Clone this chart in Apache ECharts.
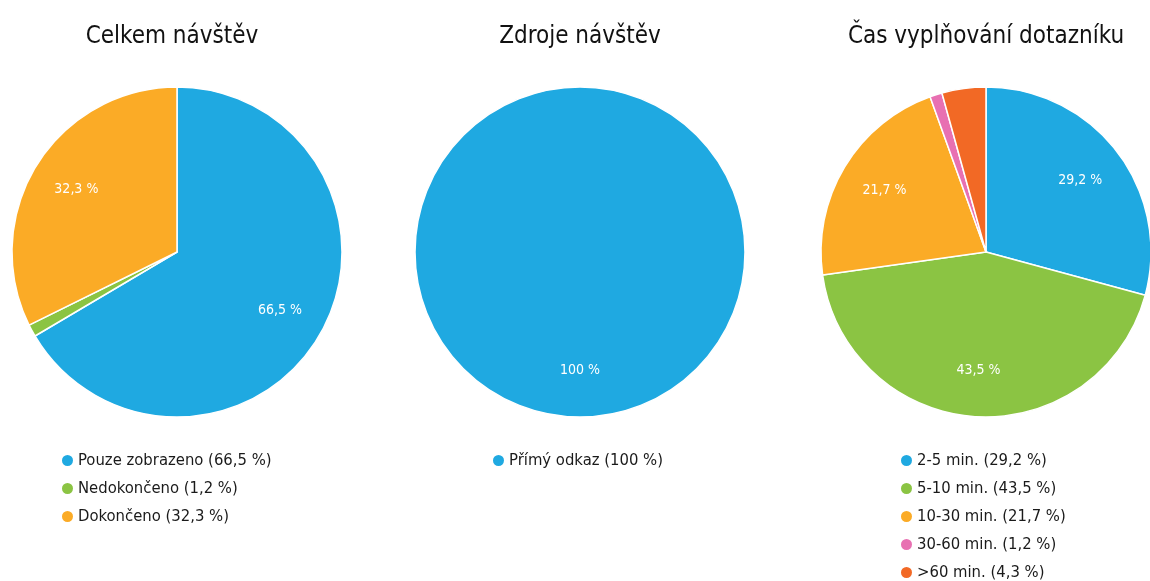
<!DOCTYPE html>
<html>
<head>
<meta charset="utf-8">
<script src="https://cdn.jsdelivr.net/npm/echarts@6/dist/echarts.min.js"></script>
<style>
  html, body { margin: 0; padding: 0; background: #fff; }
  #chart { width: 1150px; height: 581px; }
</style>
</head>
<body>
<div id="chart"></div>
<script>
// data
var titles = ['Celkem návštěv', 'Zdroje návštěv', 'Čas vyplňování dotazníku'];

var visitNames = ['Pouze zobrazeno', 'Nedokončeno', 'Dokončeno'];
var visitValues = [66.5, 1.2, 32.3];

var sourceNames = ['Přímý odkaz'];
var sourceValues = [100];

var timeNames = ['2-5 min.', '5-10 min.', '10-30 min.', '30-60 min.', '>60 min.'];
var timeValues = [29.2, 43.5, 21.7, 1.2, 4.3];

var palette = ['#1fa9e1', '#8bc443', '#fbab26', '#e870b2', '#f26925'];
var font = '"DejaVu Sans Condensed", sans-serif';

var centersX = [177, 580, 986];
var legendLeft = [62, 493, 901];
var titleX = [172, 580, 986];
var centerY = 252;
var R = 165;

function fmt(v) {
  return String(v).replace('.', ',') + ' %';
}

var groups = [
  { names: visitNames, values: visitValues },
  { names: sourceNames, values: sourceValues },
  { names: timeNames, values: timeValues }
];

var lookup = {};
groups.forEach(function (g) {
  g.names.forEach(function (n, i) { lookup[n] = g.values[i]; });
});

var series = [];
var legends = [];
var titleOpts = [];

groups.forEach(function (g, gi) {
  var data = g.names.map(function (n, i) {
    return { name: n, value: g.values[i], itemStyle: { color: palette[i] } };
  });
  series.push({
    type: 'pie',
    center: [centersX[gi], centerY],
    radius: [0, R],
    startAngle: 90,
    clockwise: true,
    label: { show: false },
    labelLine: { show: false },
    itemStyle: { borderColor: '#fff', borderWidth: 1.5 },
    emphasis: { disabled: true },
    animation: false,
    data: data
  });
  // transparent ring only to place the labels further out
  series.push({
    type: 'pie',
    center: [centersX[gi], centerY],
    radius: [R * 0.4, R],
    startAngle: 90,
    clockwise: true,
    silent: true,
    legendHoverLink: false,
    label: {
      show: true,
      position: 'inside',
      color: '#fff',
      fontSize: 14,
      fontFamily: font,
      formatter: function (p) { return p.value < 5 ? '' : fmt(p.value); }
    },
    labelLine: { show: false },
    itemStyle: { color: 'transparent', borderWidth: 0 },
    emphasis: { disabled: true },
    animation: false,
    data: g.names.map(function (n, i) { return { name: n, value: g.values[i] }; })
  });
  legends.push({
    data: g.names,
    orient: 'vertical',
    left: legendLeft[gi],
    top: 452,
    height: 140,
    padding: 0,
    icon: 'circle',
    itemWidth: 11,
    itemHeight: 11,
    itemGap: 11,
    selectedMode: false,
    itemStyle: { borderWidth: 0 },
    textStyle: { fontSize: 16.5, fontFamily: font, color: '#1a1a1a' },
    formatter: function (name) { return name + ' (' + fmt(lookup[name]) + ')'; }
  });
  titleOpts.push({
    text: titles[gi],
    left: titleX[gi],
    top: 25,
    padding: 0,
    textAlign: 'center',
    textStyle: { fontSize: 24, fontWeight: 'normal', fontFamily: font, color: '#111' }
  });
});

var chart = echarts.init(document.getElementById('chart'), null, { renderer: 'canvas' });
chart.setOption({
  backgroundColor: '#fff',
  animation: false,
  title: titleOpts,
  legend: legends,
  series: series,
  graphic: [{
    // seam of the single full slice, from the top of the circle to its centre
    type: 'line',
    shape: { x1: centersX[1], y1: centerY - R, x2: centersX[1], y2: centerY },
    style: { stroke: '#fff', lineWidth: 1.5 },
    silent: true
  }]
});
</script>
</body>
</html>
